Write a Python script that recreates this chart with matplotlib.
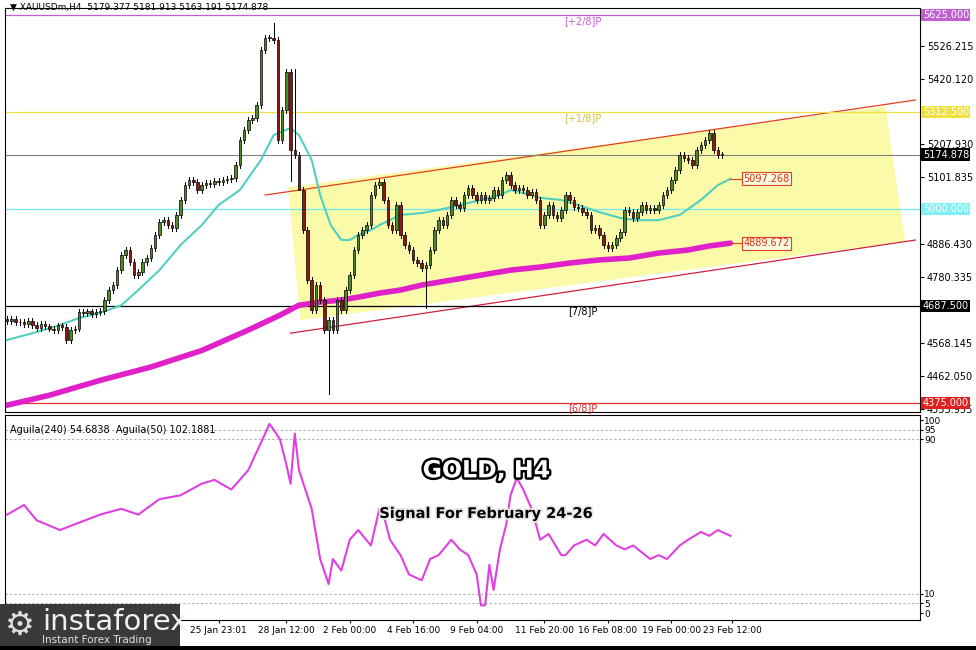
import matplotlib
matplotlib.use("Agg")
import matplotlib.pyplot as plt
from matplotlib.patches import Rectangle, Polygon
import matplotlib.patheffects as pe

closes = [4640,4645,4635,4636,4630,4640,4626,4617,4630,4622,4615,4610,4625,4620,4578,4610,4615,
          4668,4665,4670,4662,4668,4672,
          4707,4739,4755,4803,4852,4868,4829,4787,4797,4829,4842,4874,4916,4958,4964,4948,4939,4981,
          5029,5077,5093,5087,5061,5077,5084,5080,5090,5086,5093,5096,5100,5142,5222,5254,5287,5293,5335,5512,5551,5551,
          5544,5222,5319,5441,5190,5174,5061,4932,4771,4675,4755,4707,4610,4642,4610,
          4707,4675,4739,4787,4868,4916,4932,4948,5045,5077,5087,5029,4948,4932,5013,4916,4884,4868,
          4836,4826,4810,4820,4868,4932,4964,4948,4981,5029,5013,5003,5045,5068,5045,5029,5045,5029,
          5036,5061,5045,5093,5109,5077,5061,5068,5061,5045,5055,5029,4948,4981,5013,4981,4971,4997,
          5045,5029,5007,5003,4990,4981,4932,4939,4916,4884,4874,4884,4907,4926,4997,4990,
          4971,4990,5013,4997,5003,4997,5013,5045,5061,5093,5126,5174,5165,5158,5142,5190,5206,
          5222,5245,5190,5174,5175]
wick_default = 9
extreme_highs = {63: 5598, 62: 5560, 68: 5450}
extreme_lows = {67: 5090, 76: 4405, 99: 4680, 69: 5160}

ma_slow_idx = [0,10,22,34,46,57,64.5,69,74,79,83,88,93,98,105,112,119,126,133,140,147,154,161,166,171]
ma_slow_val = [4368,4400,4448,4491,4544,4610,4658,4690,4700,4707,4716,4729,4739,4755,4771,4787,4803,
               4813,4826,4836,4842,4858,4868,4881,4890]
ma_fast_idx = [0,6,12.5,17,22,27,31,36,41,46,50,55,60,63,67,69,72,74,76.5,79,81,83,86,88,93,98,102,
               107,112,116.5,119,121,124,126,131,135,140,145,149,154,159,164,168,171]
ma_fast_val = [4578,4600,4626,4649,4665,4690,4739,4803,4884,4948,5013,5061,5158,5238,5261,5238,5158,
               5045,4948,4900,4900,4916,4932,4948,4981,4987,4997,5013,5029,5045,5061,5055,5045,5036,
               5029,5013,4990,4971,4964,4964,4981,5029,5077,5097]

ind_idx = [0,4,7,12.5,16,22,27,31,36,41,46,49,53,57,61,62,63,64.5,66,67,68,69,72,74,76,77,79,81,83,86,
           88,89,90.5,93,95,98,100,102,105,107,109,111,112,113,114,115,116.5,118,119,120.5,122,124,126,
           128,131,132,134,137,139,141,144,146,148,152,154,156,159,161,164,166,168,171]
ind_val = [51,56,48,43,46,51,54,51,59,61,67,69,64,74,93,98,95,90,77,67,93,74,54,28,15,28,22,38,43,35,
           54,51,38,30,20,17,28,30,38,33,30,20,4,4,25,12,33,46,61,70,64,54,38,41,30,30,35,38,35,41,35,
           33,35,28,30,28,35,38,42,40,43,40]

tick_idx = [33,50,66,81,96,111,127,142,157,171.4]
tick_lbl = ["22 Jan 08:00","25 Jan 23:01","28 Jan 12:00","2 Feb 00:00","4 Feb 16:00","9 Feb 04:00",
            "11 Feb 20:00","16 Feb 08:00","19 Feb 00:00","23 Feb 12:00"]

levels = [5625.0, 5312.5, 5000.0, 4687.5, 4375.0]
level_colors = ["#c060d0", "#f0e040", "#70e8f0", "#000000", "#e03030"]
level_box = ["#c060d0", "#f0e040", "#80f0f8", "#000000", "#e02020"]
level_names = {5625.0: "[+2/8]P", 5312.5: "[+1/8]P", 4687.5: "[7/8]P", 4375.0: "[6/8]P"}
axis_ticks = [5526.215, 5420.120, 5207.930, 5101.835, 4886.430, 4780.335, 4568.145, 4462.050, 4355.955]
last_price = 5174.878

W, H = 976, 650
fig = plt.figure(figsize=(9.76, 6.5), dpi=100)
ax = fig.add_axes([5/W, (H-412)/H, 915/W, 404/H])
ax2 = fig.add_axes([5/W, (H-620)/H, 915/W, 205/H])
for a in (ax, ax2):
    for s in a.spines.values():
        s.set_color("black"); s.set_linewidth(0.8)
    a.set_xlim(-0.5, 215.8)

ax.set_ylim(4346, 5647.6)
ax.set_xticks([])
ax.yaxis.tick_right()
ax.set_yticks(axis_ticks)
ax.set_yticklabels([f"{v:.3f}" for v in axis_ticks], fontsize=7, family="DejaVu Sans")
ax.tick_params(axis="y", length=3, pad=2)

ax.add_patch(Polygon([(66.4, 5070), (207.6, 5330), (212.3, 4895), (69.3, 4642)],
                     closed=True, facecolor="#fafaa8", edgecolor="none", zorder=0))
ax.plot([61, 214.7], [5045, 5351], color="#e04020", lw=0.9, zorder=1)
ax.plot([67, 214.7], [4600, 4900], color="#d02040", lw=0.9, zorder=1)

for lv, c, bc in zip(levels, level_colors, level_box):
    ax.axhline(lv, color=c, lw=0.9, zorder=1)
    ax.text(1.003, lv, f"{lv:.3f}", transform=ax.get_yaxis_transform(), fontsize=7,
            color="white", va="center", ha="left",
            bbox=dict(boxstyle="square,pad=0.15", fc=bc, ec="none"), zorder=5)
    if lv in level_names:
        off = {5625.0: -20, 5312.5: -20, 4687.5: -18, 4375.0: -16}[lv]
        ax.text(136, lv + off, level_names[lv], fontsize=7, color=c if c != "#f0e040" else "#d0c040",
                va="center", ha="center")
ax.axhline(last_price, color="#808080", lw=0.8, zorder=1)
ax.text(1.003, last_price, f"{last_price:.3f}", transform=ax.get_yaxis_transform(), fontsize=7,
        color="white", va="center", ha="left",
        bbox=dict(boxstyle="square,pad=0.15", fc="black", ec="none"), zorder=5)

ax.plot(ma_slow_idx, ma_slow_val, color="#e020c8", lw=4, zorder=2, solid_capstyle="round")
ax.plot(ma_fast_idx, ma_fast_val, color="#50d0c0", lw=1.5, zorder=2)
for y in (5097.268, 4889.672):
    ax.plot([171, 174], [y, y], color="#e04020", lw=0.8)
    ax.text(174, y, f"{y:.3f}", fontsize=7, color="#e03010", va="center", ha="left",
            bbox=dict(boxstyle="square,pad=0.15", fc="#fafae0", ec="#e04020", lw=0.8), zorder=5)

opens = [closes[0] + 5] + closes[:-1]
for i, (o, c) in enumerate(zip(opens, closes)):
    hi = extreme_highs.get(i, max(o, c) + wick_default)
    lo = extreme_lows.get(i, min(o, c) - wick_default)
    ax.plot([i, i], [lo, hi], color="black", lw=0.7, zorder=3)
    fc = "#4f8a2a" if c >= o else "#8c1818"
    ax.add_patch(Rectangle((i - 0.3, min(o, c)), 0.6, max(abs(c - o), 2), fc=fc, ec="black",
                           lw=0.5, zorder=4))

fig.text(10/W, 1 - 7/H, "\u25bc XAUUSDm,H4  5179.377 5181.913 5163.191 5174.878", fontsize=6.5,
         va="center", ha="left")

ax2.set_ylim(-3.6, 102.6)
ax2.yaxis.tick_right()
ax2.set_yticks([100, 95, 90, 10, 5, 0])
ax2.set_yticklabels(["100", "95", "90", "10", "5", "0"], fontsize=6.5)
ax2.tick_params(axis="y", length=2, pad=1)
for lv in (95, 90, 10, 5):
    ax2.axhline(lv, color="#b0b0b0", lw=0.8, ls=(0, (2, 2)))
ax2.plot(ind_idx, ind_val, color="#e040e0", lw=1.5)
ax2.set_xticks(tick_idx)
ax2.set_xticklabels(tick_lbl, fontsize=6.5)
ax2.tick_params(axis="x", length=2, pad=2)
ax2.text(0.005, 0.95, "Aguila(240) 54.6838  Aguila(50) 102.1881", transform=ax2.transAxes,
         fontsize=7, va="top", ha="left")
ax2.text(0.526, 0.73, "GOLD, H4", transform=ax2.transAxes, fontsize=17, weight="bold",
         color="white", ha="center", va="center",
         path_effects=[pe.withStroke(linewidth=3.5, foreground="black")])
ax2.text(0.526, 0.52, "Signal For February 24-26", transform=ax2.transAxes, fontsize=10.5,
         weight="bold", color="black", ha="center", va="center",
         path_effects=[pe.withStroke(linewidth=2.5, foreground="#e8e8e8")])

fig.patches.append(Rectangle((0, 0), 180/W, 46/H, transform=fig.transFigure, fc="#3a3a3a",
                             ec="none", zorder=10))
fig.text(42/W, 28/H, "instaforex", fontsize=21, color="#f0f0f0", ha="left", va="center", zorder=11)
fig.text(42/W, 10/H, "Instant Forex Trading", fontsize=7.5, color="#e0e0e0", ha="left",
         va="center", zorder=11)
fig.text(20/W, 25/H, "\u2699", fontsize=24, color="#e0e0e0", ha="center", va="center", zorder=11)
fig.patches.append(Rectangle((0, 0), 1, 4/H, transform=fig.transFigure, fc="black", ec="none",
                             zorder=12))

fig.savefig("out.png", dpi=100)
